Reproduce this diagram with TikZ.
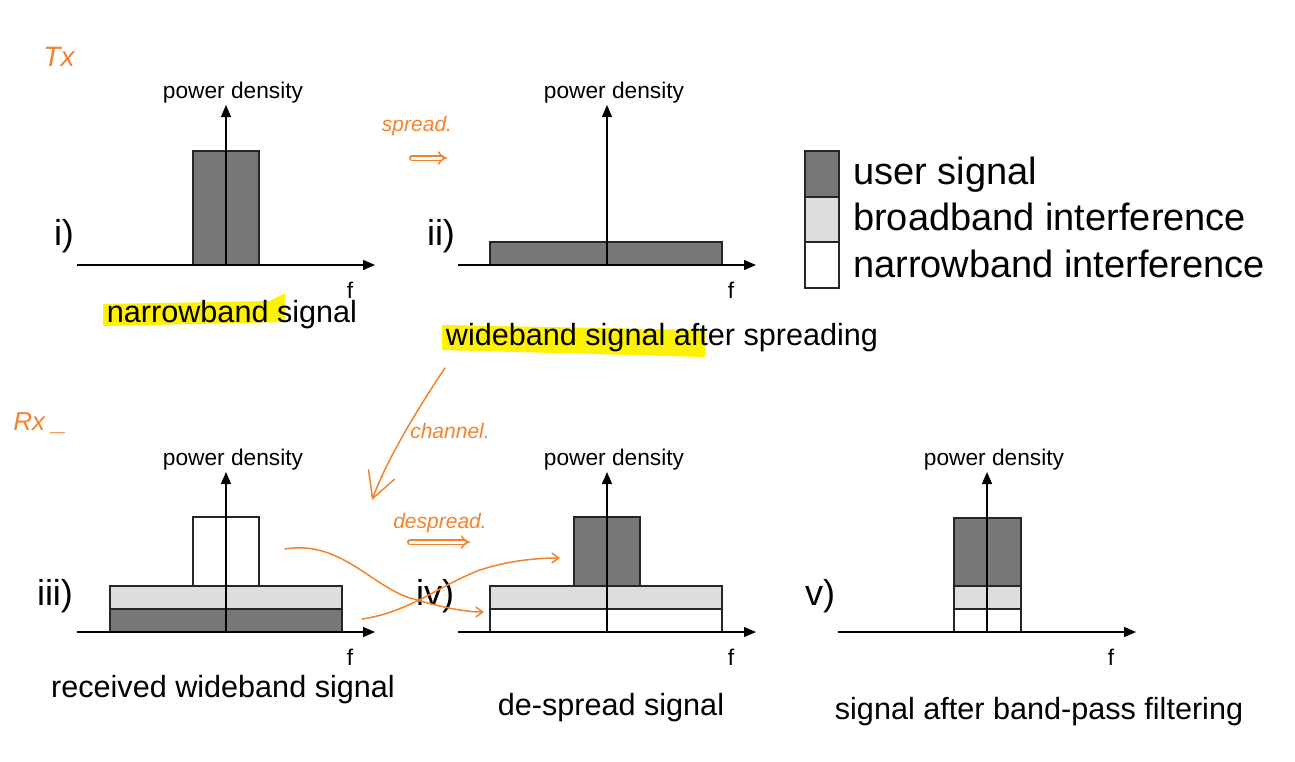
\documentclass[tikz,border=0pt]{standalone}
\usepackage{fontspec}
\setmainfont{Liberation Sans}
\usetikzlibrary{arrows.meta,positioning}
\definecolor{usergray}{HTML}{777777}
\definecolor{bbgray}{HTML}{DDDDDD}
\definecolor{pen}{HTML}{F5822A}
\definecolor{marker}{HTML}{FFF200}

\tikzset{
  axis/.style={line width=1.3pt,-{Triangle[length=12pt,width=10pt]}},
  band/.style={draw=black!85,line width=1.3pt},
  user/.style={band,fill=usergray},
  broad/.style={band,fill=bbgray},
  narrow/.style={band,fill=white},
  pdlabel/.style={font=\fontsize{22.7}{26}\selectfont,anchor=base,inner sep=0pt},
  flabel/.style={font=\fontsize{22.7}{26}\selectfont,anchor=base,inner sep=0pt},
  caption/.style={font=\fontsize{30.6}{36}\selectfont,anchor=base,inner sep=0pt},
  numeral/.style={font=\fontsize{36}{42}\selectfont,anchor=base,inner sep=0pt},
  legend/.style={font=\fontsize{38}{44}\selectfont,anchor=base west,inner sep=0pt},
  note/.style={text=pen,font=\itshape\fontsize{21}{25}\selectfont,anchor=base,inner sep=0pt},
  penstroke/.style={draw=pen,line width=1.5pt,line cap=round},
}

% axes of one spectrum, origin where they cross
\newcommand{\spectrum}[1]{%
  \coordinate (#1-o) at (0,0);
  \coordinate (#1-l) at (-149,0);
  \coordinate (#1-r) at (149,0);
  \coordinate (#1-t) at (0,-160);
  \node[pdlabel] (#1-pd) at (7,-167) {power density};
  \node[flabel] (#1-f) at (124,33) {f};
  \draw[axis] (#1-l) -- (#1-r);
  \draw[axis] (#1-o) -- (#1-t);
}

\begin{document}
\begin{tikzpicture}[x=1pt,y=-1pt]
\useasboundingbox (0,0) rectangle (1295,761);

% marker highlights
\fill[marker] (103,304) -- (270,301) -- (285,293) -- (285,322) -- (103,326) -- cycle;
\fill[marker] (442,325) -- (705,330) -- (705,357) -- (442,350) -- cycle;

% i) narrowband signal
\begin{scope}[shift={(226,265)}]
\draw[user] (-33,0) rectangle (33,-114);
\spectrum{i}
\end{scope}
\node[numeral] (num-i) at (64,245) {i)};
\node[caption] (cap-i) at (232,322) {narrowband signal};

% ii) wideband signal
\begin{scope}[shift={(607,265)}]
\draw[user] (-117,0) rectangle (115,-23);
\spectrum{ii}
\end{scope}
\node[numeral] (num-ii) at (441,245) {ii)};
\node[caption] (cap-ii) at (662,345) {wideband signal after spreading};

% legend
\draw[user] (805,151) rectangle (839,197);
\draw[broad] (805,197) rectangle (839,242);
\draw[narrow] (805,242) rectangle (839,288);
\node[legend] (leg-user) at (853,184) {user signal};
\node[legend] (leg-broad) at (853,230) {broadband interference};
\node[legend] (leg-narrow) at (853,277) {narrowband interference};

% iii) received signal
\begin{scope}[shift={(226,632)}]
\draw[user] (-116,0) rectangle (116,-23);
\draw[broad] (-116,-23) rectangle (116,-46);
\draw[narrow] (-33,-46) rectangle (33,-115);
\spectrum{iii}
\end{scope}
\node[numeral] (num-iii) at (55,605) {iii)};
\node[caption] (cap-iii) at (223,697) {received wideband signal};

% iv) de-spread signal
\begin{scope}[shift={(607,632)}]
\draw[narrow] (-117,0) rectangle (115,-23);
\draw[broad] (-117,-23) rectangle (115,-46);
\draw[user] (-33,-46) rectangle (33,-115);
\spectrum{iv}
\end{scope}
\node[numeral] (num-iv) at (435,605) {iv)};
\node[caption] (cap-iv) at (611,715) {de-spread signal};

% v) after band-pass filter
\begin{scope}[shift={(987,632)}]
\draw[narrow] (-33,0) rectangle (34,-23);
\draw[broad] (-33,-23) rectangle (34,-46);
\draw[user] (-33,-46) rectangle (34,-114);
\spectrum{v}
\end{scope}
\node[numeral] (num-v) at (820,605) {v)};
\node[caption] (cap-v) at (1039,719) {signal after band-pass filtering};

% handwritten notes
\node[note,font=\itshape\fontsize{28}{32}\selectfont] (tx) at (59,66) {Tx};
\node[note,font=\itshape\fontsize{26}{30}\selectfont] (rx) at (40,430) {Rx \_};
\node[note] (spread) at (417,131) {spread.};
\node[note] (channel) at (450,438) {channel.};
\node[note] (despread) at (440,528) {despread.};

\coordinate (spread-a) at (412,158);
\coordinate (spread-b) at (447,158);
\draw[penstroke,double=white,double distance=3pt,-{Implies}] (spread-a) -- (spread-b);
\coordinate (despread-a) at (410,542);
\coordinate (despread-b) at (470,542);
\draw[penstroke,double=white,double distance=3pt,-{Implies}] (despread-a) -- (despread-b);

\coordinate (chan-a) at (445,368);
\coordinate (chan-b) at (372,500);
\draw[penstroke,-{Straight Barb[length=26pt,width=28pt]}] (chan-a) .. controls (410,420) and (385,465) .. (chan-b);

\coordinate (cross1-a) at (285,549);
\coordinate (cross1-b) at (484,612);
\draw[penstroke,-{Straight Barb[length=7pt,width=10pt]}] (cross1-a) .. controls (340,540) and (370,585) .. (410,598) .. controls (440,607) and (465,612) .. (cross1-b);
\coordinate (cross2-a) at (362,619);
\coordinate (cross2-b) at (560,558);
\draw[penstroke,-{Straight Barb[length=7pt,width=10pt]}] (cross2-a) .. controls (410,612) and (440,585) .. (480,570) .. controls (510,560) and (540,558) .. (cross2-b);
\end{tikzpicture}
\end{document}
